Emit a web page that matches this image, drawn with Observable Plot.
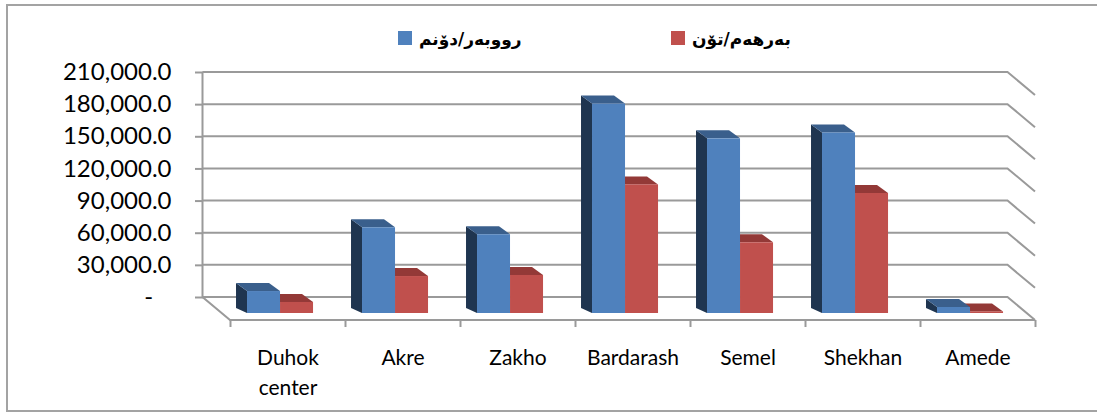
<!DOCTYPE html>
<html>
<head>
<meta charset="utf-8">
<script src="https://cdn.jsdelivr.net/npm/d3@7"></script>
<script src="https://cdn.jsdelivr.net/npm/@observablehq/plot@0.6"></script>
<style>
  body { margin: 0; background: #fff; }
  #wrap { position: relative; width: 1097px; height: 412px; overflow: hidden; background: #fff; }
  #border { position: absolute; left: 6px; top: 4px; width: 1110px; height: 408px; border: 2px solid #a3a3a3; box-sizing: border-box; }
  #legend { position: absolute; left: 0; top: 0; width: 1097px; height: 60px; }
  .sw { position: absolute; top: 31px; width: 14px; height: 14px; }
  .lab { position: absolute; top: 26px; font: bold 17px "DejaVu Sans", sans-serif; line-height: 27px; white-space: nowrap; color: #000; }
  #chart { position: absolute; left: 0; top: 60px; }
</style>
</head>
<body>
<div id="wrap">
  <div id="border"></div>
  <div id="legend"></div>
  <div id="chart"></div>
</div>
<script>
// ---- data ----
const categories = ["Duhok center", "Akre", "Zakho", "Bardarash", "Semel", "Shekhan", "Amede"];
const areaDonum = [20500, 80000, 73500, 195500, 163000, 168500, 5600];
const productionTon = [10300, 34500, 35500, 120000, 66000, 112000, 1500];
const seriesNames = ["رووبەر/دۆنم", "بەرهەم/تۆن"];
const yTicks = [0, 30000, 60000, 90000, 120000, 150000, 180000, 210000];

// ---- styles / layout ----
const colors = {
  blue: { front: "#4F81BD", side: "#1F3550", top: "#3A5F8C" },
  red: { front: "#C0504D", side: "#5C1F1E", top: "#933937" }
};
const DEPTH = { x: 27.5, y: 23 };      // back wall -> front floor edge (px)
const BAR_OFFSET = 16;                  // bar base below the wall's zero line (px)
const BOX = { dx: 11, dyTop: 8, dyBottom: 5 };
const BLUE_X = [0.148, 0.435];          // bar position inside a category slot
const RED_X = [0.435, 0.722];
const GRID = "#9a9a9a";

// legend
const legend = document.getElementById("legend");
[[398, 419, colors.blue.front, seriesNames[0]], [671, 692, colors.red.front, seriesNames[1]]].forEach(([sx, tx, c, name]) => {
  const sw = document.createElement("div");
  sw.className = "sw"; sw.style.left = sx + "px"; sw.style.background = c;
  const lab = document.createElement("div");
  lab.className = "lab"; lab.style.left = tx + "px"; lab.dir = "rtl"; lab.textContent = name;
  legend.append(sw, lab);
});

const rows = categories.map((c, i) => ({ i, c, area: areaDonum[i], prod: productionTon[i] }));
const n = categories.length;

// 3D walls and gridlines
const walls = (index, { x, y }) => {
  const g = d3.create("svg:g").attr("fill", "none").attr("stroke", GRID).attr("stroke-width", 2);
  const xl = x(0) - DEPTH.x, xr = x(n) - DEPTH.x;
  for (const t of yTicks) {
    g.append("path").attr("d", `M${xl},${y(t)}H${xr}l${DEPTH.x},${DEPTH.y}`);
  }
  g.append("path").attr("d", `M${xl},${y(yTicks[yTicks.length - 1])}V${y(0)}L${x(0)},${y(0) + DEPTH.y}H${x(n)}`);
  return g.node();
};

// side + top faces of boxes
const faces = (key, [f1, f2], col) => (index, { x, y }) => {
  const g = d3.create("svg:g");
  rows.forEach((d) => {
    const xa = x(d.i + f1), xb = x(d.i + f2);
    const yb = y(0) + BAR_OFFSET, yt = y(d[key]) + BAR_OFFSET;
    g.append("path")
      .attr("d", `M${xa},${yb}L${xa},${yt}L${xa - BOX.dx},${yt - BOX.dyTop}L${xa - BOX.dx},${yb - BOX.dyBottom}Z`)
      .attr("fill", col.side);
    g.append("path")
      .attr("d", `M${xa},${yt}L${xb},${yt}L${xb - BOX.dx},${yt - BOX.dyTop}L${xa - BOX.dx},${yt - BOX.dyTop}Z`)
      .attr("fill", col.top);
  });
  return g.node();
};

const fmt = d3.format(",.1f");

const chart = Plot.plot({
  width: 1097,
  height: 352,
  marginLeft: 203,
  marginRight: 62,
  marginTop: 12,
  marginBottom: 92,
  style: { fontFamily: "Lato, sans-serif", background: "transparent", overflow: "visible" },
  x: { type: "linear", domain: [0, n], range: [230, 1035], axis: null },
  y: { domain: [0, 210000], range: [237, 12], axis: null },
  marks: [
    walls,
    Plot.axisY(yTicks, {
      anchor: "left", tickSize: 8, tickPadding: 24, stroke: GRID, strokeWidth: 2, fill: "#000",
      fontSize: 24, label: null,
      tickFormat: (d) => (d === 0 ? "-\u00a0\u00a0\u00a0" : fmt(d))
    }),
    Plot.axisX(d3.range(n + 1), {
      anchor: "bottom", tickSize: 7, stroke: GRID, strokeWidth: 2, label: null, tickFormat: () => ""
    }),
    Plot.text(rows, {
      x: (d) => d.i + 0.5, frameAnchor: "bottom", lineAnchor: "top", dy: 23,
      text: (d) => d.c.replace(" ", "\n"), fontSize: 21, lineHeight: 1.43, fill: "#000"
    }),
    faces("prod", RED_X, colors.red),
    Plot.rect(rows, { x1: (d) => d.i + RED_X[0], x2: (d) => d.i + RED_X[1], y1: 0, y2: "prod", dy: BAR_OFFSET, fill: colors.red.front }),
    faces("area", BLUE_X, colors.blue),
    Plot.rect(rows, { x1: (d) => d.i + BLUE_X[0], x2: (d) => d.i + BLUE_X[1], y1: 0, y2: "area", dy: BAR_OFFSET, fill: colors.blue.front })
  ]
});
document.getElementById("chart").append(chart);
</script>
</body>
</html>
